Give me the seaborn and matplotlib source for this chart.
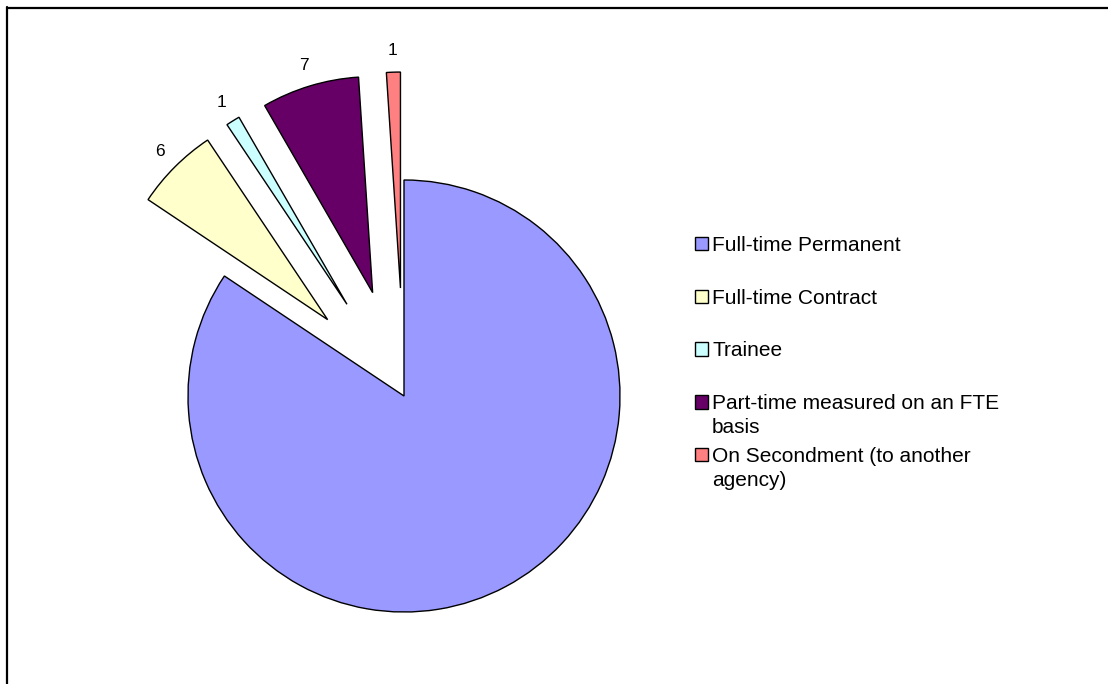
import matplotlib
matplotlib.use("Agg")
import matplotlib.pyplot as plt
from matplotlib.patches import Patch
from matplotlib.lines import Line2D
import seaborn as sns

categories = [
    "Full-time Permanent",
    "Full-time Contract",
    "Trainee",
    "Part-time measured on an FTE\nbasis",
    "On Secondment (to another\nagency)",
]
values = [81, 6, 1, 7, 1]
show_label = [False, True, True, True, True]
colors = ["#9999FF", "#FFFFCC", "#CCFFFF", "#660066", "#FF8080"]

sns.set_theme(style="white")
plt.rcParams["font.family"] = ["Liberation Sans", "DejaVu Sans"]
plt.rcParams["text.color"] = "black"

W, H = 1108, 684
fig = plt.figure(figsize=(W / 100, H / 100), dpi=100)
fig.patch.set_facecolor("white")

# pie centred at (404, 396) px with a 216 px radius
cx, cy, r = 404, 396, 216
ax = fig.add_axes([(cx - r) / W, (H - cy - r) / H, 2 * r / W, 2 * r / H])

palette = sns.color_palette(colors)
labels = [str(v) if s else "" for v, s in zip(values, show_label)]
explode = [0.0 if not s else 0.5 for s in show_label]
wedges, texts = ax.pie(
    values,
    labels=labels,
    colors=palette,
    explode=explode,
    startangle=90,
    counterclock=False,
    labeldistance=1.1,
    wedgeprops=dict(edgecolor="black", linewidth=1.0),
    textprops=dict(fontsize=12.5, color="black"),
)
for t in texts:
    t.set_ha("center")
    t.set_va("center")
    t.set_clip_on(False)
for w in wedges:
    w.set_clip_on(False)
ax.set_xlim(-1, 1)
ax.set_ylim(-1, 1)
ax.set_aspect("equal")
ax.axis("off")

# legend: one row per category; wrapped labels continue on a second line
first_lines = [c.split("\n")[0] for c in categories]
handles = [Patch(facecolor=c, edgecolor="black", linewidth=1.0) for c in palette]
leg_fs = 15
leg = fig.legend(
    handles,
    first_lines,
    loc="upper left",
    bbox_to_anchor=(695 / W, 1 - 236 / H),
    frameon=False,
    fontsize=leg_fs,
    handlelength=0.62,
    handleheight=0.62,
    handletextpad=0.2,
    labelspacing=1.62,
    borderpad=0,
    borderaxespad=0,
    labelcolor="black",
)

fig.canvas.draw()
line_gap = 1.13 * leg_fs * fig.dpi / 72  # pixels between baselines
for txt, full in zip(leg.get_texts(), categories):
    parts = full.split("\n")
    if len(parts) < 2:
        continue
    bb = txt.get_window_extent()
    mid_y = (bb.y0 + bb.y1) / 2
    for k, extra in enumerate(parts[1:], start=1):
        fig.text(bb.x0 / W, (mid_y - k * line_gap) / H, extra,
                 ha="left", va="center", fontsize=leg_fs, color="black")

# chart-area border along the top and left edges
fig.add_artist(Line2D([7 / W, 7 / W], [0, 1 - 7 / H], transform=fig.transFigure,
                      color="black", linewidth=1.6))
fig.add_artist(Line2D([7 / W, 1], [1 - 7.5 / H, 1 - 7.5 / H], transform=fig.transFigure,
                      color="black", linewidth=1.6))

fig.savefig("out.png", dpi=100, facecolor="white")
